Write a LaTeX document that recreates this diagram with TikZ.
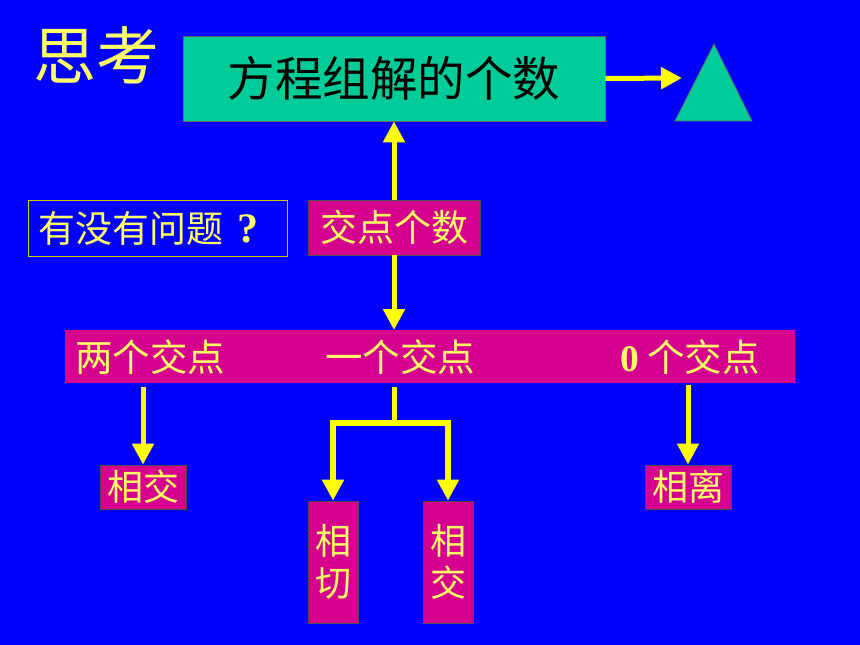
\documentclass[tikz,border=0pt]{standalone}
\usepackage{fontspec}
\setmainfont{Liberation Serif}
\newfontfamily\cjk{Noto Sans CJK SC}
\usetikzlibrary{arrows.meta}
\definecolor{bgblue}{RGB}{0,0,255}
\definecolor{boxgreen}{RGB}{0,204,153}
\definecolor{boxmag}{RGB}{214,0,143}
\definecolor{txtyel}{RGB}{255,255,102}
\definecolor{arryel}{RGB}{255,255,0}
\tikzset{
  magbox/.style={fill=boxmag, draw=black!70, line width=0.8pt, inner sep=0pt, text=txtyel},
  arr/.style={draw=arryel, line width=5pt, -{Triangle[length=21pt,width=21pt]}},
  ln/.style={draw=arryel, line width=5pt},
}
\begin{document}
\begin{tikzpicture}[x=1pt,y=-1pt]
\fill[bgblue] (0,0) rectangle (860,645);
\useasboundingbox (0,0) rectangle (860,645);
% title
\node[text=txtyel, font=\cjk\fontsize{63}{63}\selectfont, anchor=center] (think) at (97,55) {思考};
% green box
\node[fill=boxgreen, draw=black!60, line width=0.8pt, minimum width=422pt, minimum height=85pt, inner sep=0pt, font=\cjk\fontsize{47.5}{47.5}\selectfont] (eq) at (394,78.5) {方程组解的个数};
% triangle
\coordinate (tA) at (714,44);
\coordinate (tB) at (752,121);
\coordinate (tC) at (675,121);
\fill[boxgreen, draw=black!60, line width=0.8pt] (tA) -- (tB) -- (tC) -- cycle;
\coordinate (tl) at (682,78);
\draw[arr] (eq.east) -- (tl);
% question box
\node[fill=bgblue, draw=arryel!80!black, line width=0.8pt, minimum width=259pt, minimum height=56pt, inner sep=0pt] (q) at (157.5,228) {};
\node[text=txtyel, font=\cjk\fontsize{37}{37}\selectfont, anchor=west, inner sep=0pt] (qt) at (38,228) {有没有问题\hspace{14pt}{\rmfamily\bfseries\fontsize{42}{42}\selectfont ?}};
% intersection count
\node[magbox, minimum width=172pt, minimum height=55pt, font=\cjk\fontsize{37}{37}\selectfont] (jd) at (394,227.5) {交点个数};
\draw[arr] (jd.north) -- (eq.south);
% bar
\node[fill=boxmag, inner sep=0pt, minimum width=730pt, minimum height=53pt] (bar) at (430,356.5) {};
\node[text=txtyel, font=\cjk\fontsize{37.5}{37.5}\selectfont, anchor=west, inner sep=0pt] (two) at (75,357) {两个交点};
\node[text=txtyel, font=\cjk\fontsize{37.5}{37.5}\selectfont, anchor=west, inner sep=0pt] (one) at (325,357) {一个交点};
\node[text=txtyel, font=\cjk\fontsize{37.5}{37.5}\selectfont, anchor=west, inner sep=0pt] (zero) at (620,357) {{\rmfamily\bfseries 0} 个交点};
\draw[arr] (jd.south) -- (394,330);
% result boxes
\node[magbox, minimum width=86pt, minimum height=44pt, font=\cjk\fontsize{36}{36}\selectfont] (xj1) at (143,487) {相交};
\node[magbox, minimum width=86pt, minimum height=44pt, font=\cjk\fontsize{36}{36}\selectfont] (xl) at (688,487) {相离};
\node[magbox, minimum width=50pt, minimum height=122pt, align=center, font=\cjk\fontsize{36}{42}\selectfont] (xq) at (333,562) {相\\切};
\node[magbox, minimum width=50pt, minimum height=122pt, align=center, font=\cjk\fontsize{36}{42}\selectfont] (xj2) at (448,562) {相\\交};
% connectors
\coordinate (b1) at (143,387);
\coordinate (b2) at (394,387);
\coordinate (b3) at (688,385);
\coordinate (br) at (394,423);
\draw[arr] (b1) -- (xj1.north);
\draw[arr] (b3) -- (xl.north);
\draw[ln] (b2) -- (br);
\draw[arr, line width=6pt] (br) -| (xq.north);
\draw[arr, line width=6pt] (br) -| (xj2.north);
\end{tikzpicture}
\end{document}
